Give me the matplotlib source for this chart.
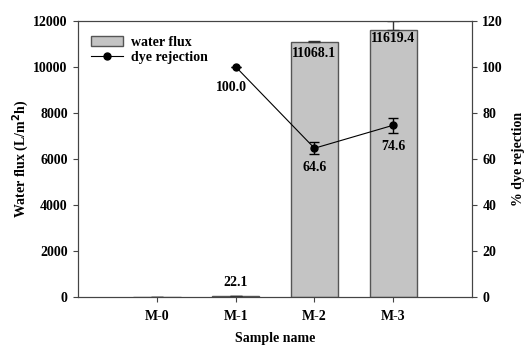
import numpy as np
import matplotlib.pyplot as plt
from matplotlib.lines import Line2D
from matplotlib.patches import Patch

plt.rcParams['font.family'] = 'Liberation Serif'
plt.rcParams['font.weight'] = 'bold'

# data
samples = ["M-0", "M-1", "M-2", "M-3"]
flux = [0.0, 22.1, 11068.1, 11619.4]
flux_err = [0.0, 20.0, 60.0, 380.0]
rej_samples = ["M-1", "M-2", "M-3"]
rejection = [100.0, 64.6, 74.6]
rejection_err = [0.0, 2.5, 3.3]

x = np.arange(len(samples))
xr = np.array([samples.index(s) for s in rej_samples])

fig, ax = plt.subplots(figsize=(5.28, 3.46), dpi=100)
fig.subplots_adjust(left=0.148, right=0.894, top=0.94, bottom=0.142)

# only the upper half of the flux error bars shows
ax.bar(x, flux, width=0.6, color='#c4c4c4', edgecolor='#555555', linewidth=1.0,
       yerr=[np.zeros(len(flux)), flux_err],
       error_kw=dict(ecolor='#333333', elinewidth=1, capsize=4, capthick=1))
ax.set_xlim(-1, 4)
ax.set_ylim(0, 12000)
ax.set_xticks(x)
ax.set_xticklabels(samples)
ax.set_yticks(range(0, 12001, 2000))
ax.set_xlabel("Sample name", fontsize=10, fontweight='bold', va='center')
ax.xaxis.set_label_coords(0.5, -0.152)
ax.set_ylabel("Water flux (L/m$^\\mathbf{2}$h)", fontsize=10, fontweight='bold', va='center')
ax.yaxis.set_label_coords(-0.147, 0.5)

# bar value labels
ax.text(x[1], flux[1] + 300, "22.1", ha='center', va='bottom', fontsize=10)
ax.text(x[2], flux[2] - 200, "11068.1", ha='center', va='top', fontsize=10)
ax.text(x[3], flux[3] - 90, "11619.4", ha='center', va='top', fontsize=10)

ax2 = ax.twinx()
ax2.errorbar(xr, rejection, yerr=rejection_err, color='black', marker='o', markersize=5,
             linewidth=0.8, capsize=3.5, elinewidth=1, capthick=1)
ax2.set_ylim(0, 120)
ax2.set_yticks(range(0, 121, 20))
ax2.set_ylabel("% dye rejection", fontsize=10, fontweight='bold', rotation=90, va='center')
ax2.yaxis.set_label_coords(1.119, 0.5)

ax2.text(xr[0] - 0.05, rejection[0] - 6, "100.0", ha='center', va='top', fontsize=10)
ax2.text(xr[1], rejection[1] - 5.5, "64.6", ha='center', va='top', fontsize=10)
ax2.text(xr[2], rejection[2] - 6.5, "74.6", ha='center', va='top', fontsize=10)

for a in (ax, ax2):
    a.tick_params(labelsize=10, width=0.8, color='#444444', pad=4)
    for sp in a.spines.values():
        sp.set_color('#444444')
        sp.set_linewidth(0.8)
ax.tick_params(axis='x', pad=6)

handles = [Patch(facecolor='#c4c4c4', edgecolor='#555555', label='water flux'),
           Line2D([], [], color='black', marker='o', markersize=5, linewidth=0.8, label='dye rejection')]
ax.legend(handles=handles, loc='upper left', bbox_to_anchor=(0.0, 0.99), frameon=False, fontsize=10,
          handlelength=2.3, borderaxespad=0.5, labelspacing=0.15, handletextpad=0.6)

fig.savefig("out.png", dpi=100)
